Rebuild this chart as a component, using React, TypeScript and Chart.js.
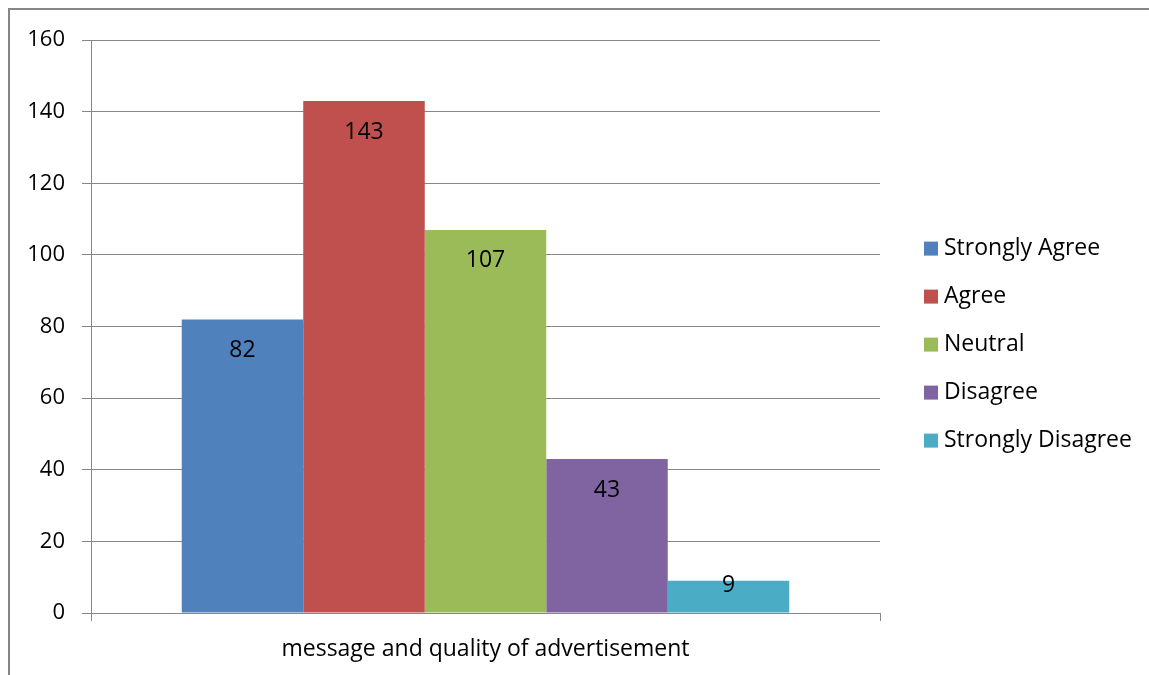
import React, { useEffect, useRef } from "react";
import { Chart, registerables } from "chart.js";

Chart.register(...registerables);

const categories = ["message and quality of advertisement"];
const seriesNames = ["Strongly Agree", "Agree", "Neutral", "Disagree", "Strongly Disagree"];
const seriesValues = [82, 143, 107, 43, 9];
const seriesColors = ["#4F81BD", "#C0504D", "#9BBB59", "#8064A2", "#4BACC6"];
const yMin = 0;
const yMax = 160;
const yStep = 20;

const FONT = "'Open Sans', Lato, sans-serif";
const FSIZE = 23;
const TICK_SIZE = 22;
const GRID = "#878787";

const valueLabels = {
  id: "valueLabels",
  afterDatasetsDraw(chart: any) {
    const ctx = chart.ctx;
    ctx.save();
    ctx.fillStyle = "#000";
    ctx.font = `${FSIZE}px ${FONT}`;
    ctx.textAlign = "center";
    ctx.textBaseline = "middle";
    chart.data.datasets.forEach((ds: any, i: number) => {
      const meta = chart.getDatasetMeta(i);
      meta.data.forEach((bar: any, j: number) => {
        const h = bar.base - bar.y;
        const off = Math.min(31, h / 2 - 11);
        ctx.fillText(String(ds.data[j]), bar.x, bar.y + off);
      });
    });
    ctx.restore();
  },
};

const sideLegend = {
  id: "sideLegend",
  afterDraw(chart: any) {
    const ctx = chart.ctx;
    const area = chart.chartArea;
    const x0 = area.right + 44;
    const spacing = 48;
    const n = chart.data.datasets.length;
    const midY = (area.top + area.bottom) / 2 + 18;
    const startY = midY - ((n - 1) * spacing) / 2;
    ctx.save();
    ctx.font = `${FSIZE}px ${FONT}`;
    ctx.textAlign = "left";
    ctx.textBaseline = "middle";
    chart.data.datasets.forEach((ds: any, i: number) => {
      const cy = startY + i * spacing;
      ctx.fillStyle = ds.backgroundColor;
      ctx.fillRect(x0, cy - 7, 14, 14);
      ctx.fillStyle = "#000";
      ctx.fillText(ds.label, x0 + 20, cy);
    });
    ctx.restore();
  },
};

export default function App() {
  const ref = useRef<HTMLCanvasElement | null>(null);

  useEffect(() => {
    if (!ref.current) return;
    const chart = new Chart(ref.current, {
      type: "bar",
      data: {
        labels: categories,
        datasets: seriesNames.map((name, i) => ({
          label: name,
          data: [seriesValues[i]],
          backgroundColor: seriesColors[i],
          borderWidth: 0,
          barPercentage: 1,
          categoryPercentage: 0.77,
        })),
      },
      options: {
        animation: false,
        responsive: false,
        maintainAspectRatio: false,
        layout: { padding: { left: 0, top: 29, right: 269, bottom: 0 } },
        plugins: {
          legend: { display: false },
          tooltip: { enabled: false },
        },
        scales: {
          x: {
            offset: true,
            grid: {
              display: true,
              drawOnChartArea: false,
              drawTicks: true,
              tickLength: 8,
              color: GRID,
              offset: true,
            },
            border: { display: true, color: GRID, width: 1 },
            ticks: { color: "#000", font: { family: FONT, size: FSIZE }, padding: 15 },
            afterFit: (s: any) => {
              s.height = 54;
            },
          },
          y: {
            min: yMin,
            max: yMax,
            ticks: { stepSize: yStep, color: "#000", font: { family: FONT, size: TICK_SIZE }, padding: 17 },
            grid: { color: GRID, tickLength: 9, drawTicks: true },
            border: { display: true, color: GRID, width: 1 },
            afterFit: (s: any) => {
              s.width = 81;
            },
          },
        },
      },
      plugins: [valueLabels, sideLegend],
    });
    return () => chart.destroy();
  }, []);

  return (
    <div
      style={{
        position: "fixed",
        top: 8,
        left: 8,
        right: 0,
        bottom: 0,
        borderTop: "2px solid #868686",
        borderLeft: "2px solid #868686",
        background: "#fff",
        overflow: "hidden",
      }}
    >
      <canvas ref={ref} width={1139} height={657} style={{ display: "block" }} />
    </div>
  );
}
